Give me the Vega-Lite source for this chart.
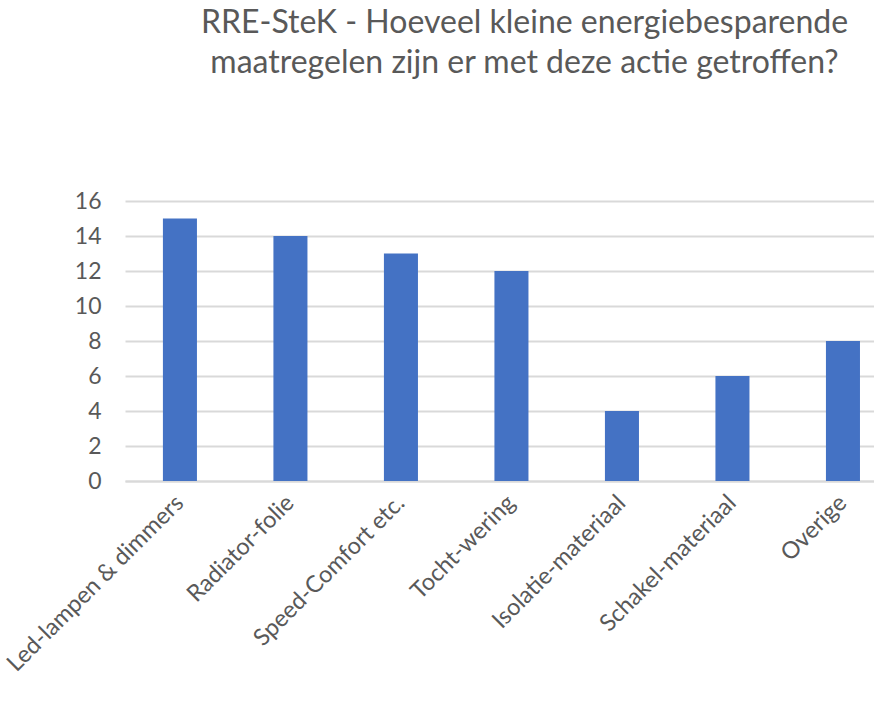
{
  "$schema": "https://vega.github.io/schema/vega-lite/v6.json",
  "autosize": "none",
  "width": 749,
  "height": 280,
  "padding": {"left": 125, "top": 201, "right": 0, "bottom": 227},
  "background": "white",
  "config": {"view": {"stroke": null}, "font": "Lato"},
  "title": {
    "text": ["RRE-SteK - Hoeveel kleine energiebesparende", "maatregelen zijn er met deze actie getroffen?"],
    "font": "Lato",
    "fontSize": 32,
    "fontWeight": "normal",
    "color": "#595959",
    "anchor": "middle",
    "dx": 25,
    "offset": 110,
    "lineHeight": 40
  },
  "data": {
    "values": [
      {"maatregel": "Led-lampen & dimmers", "aantal": 15},
      {"maatregel": "Radiator-folie", "aantal": 14},
      {"maatregel": "Speed-Comfort etc.", "aantal": 13},
      {"maatregel": "Tocht-wering", "aantal": 12},
      {"maatregel": "Isolatie-materiaal", "aantal": 4},
      {"maatregel": "Schakel-materiaal", "aantal": 6},
      {"maatregel": "Overige", "aantal": 8}
    ]
  },
  "mark": {"type": "bar", "color": "#4472c4"},
  "encoding": {
    "x": {
      "field": "maatregel",
      "type": "nominal",
      "sort": null,
      "scale": {"paddingInner": 0.692, "paddingOuter": 0.235, "align": 0.73},
      "axis": {
        "title": null,
        "labelAngle": -45,
        "labelAlign": "right",
        "labelBaseline": "middle",
        "labelFontSize": 23.5,
        "labelColor": "#595959",
        "labelPadding": 18,
        "ticks": false,
        "domainColor": "#d9d9d9",
        "domainWidth": 2,
        "labelLimit": 400
      }
    },
    "y": {
      "field": "aantal",
      "type": "quantitative",
      "scale": {"domain": [0, 16]},
      "axis": {
        "title": null,
        "values": [0, 2, 4, 6, 8, 10, 12, 14, 16],
        "domain": false,
        "ticks": false,
        "labelFontSize": 23,
        "labelColor": "#595959",
        "labelPadding": 24,
        "gridColor": "#d9d9d9",
        "gridWidth": 2
      }
    }
  }
}
